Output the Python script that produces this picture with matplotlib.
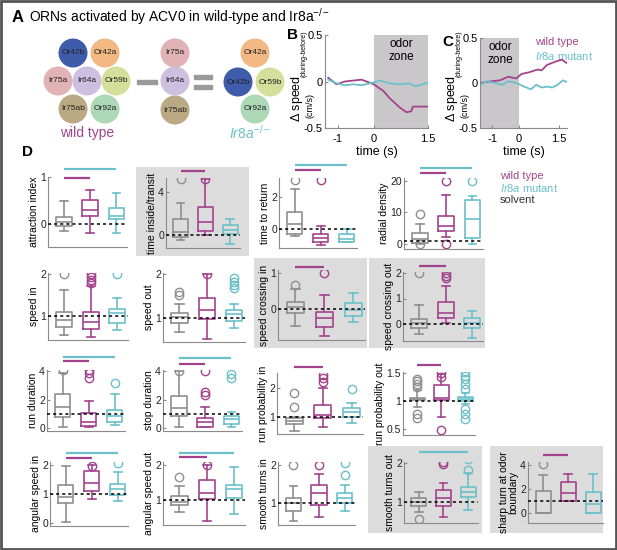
import matplotlib
matplotlib.use("Agg")
import matplotlib.pyplot as plt
from matplotlib.patches import Circle, Rectangle

plt.rcParams['font.family'] = ['Liberation Sans', 'DejaVu Sans']
plt.rcParams['mathtext.fontset'] = 'custom'
plt.rcParams['mathtext.rm'] = 'Liberation Sans'
plt.rcParams['mathtext.it'] = 'Liberation Sans:italic'

W, H = 617, 550
GRAY, MAG, CYAN = '#8f8f8f', '#a3438d', '#6cc0ca'
BG = '#dcdcdc'
SPINE = '#8a8a8a'

# ---- panel A: receptor sets
wt_orns = ['Or42b', 'Or42a', 'Ir75a', 'Ir64a', 'Or59b', 'Ir75ab', 'Or92a']
ir8a_orns = ['Ir75a', 'Ir64a', 'Ir75ab']
mutant_orns = ['Or42a', 'Or42b', 'Or59b', 'Or92a']
orn_colors = {'Or42b': '#3f5caa', 'Or42a': '#f3b985', 'Ir75a': '#e1b2b6',
              'Ir64a': '#cdbfe0', 'Or59b': '#d3df9b', 'Ir75ab': '#bba983',
              'Or92a': '#acd8b5'}

# ---- panels B and C: change in speed vs time
b_time = [-1.26, -1.03, -0.8, -0.57, -0.34, -0.2, 0.0, 0.26, 0.44, 0.58, 0.72,
          0.9, 1.04, 1.08, 1.22, 1.5]
b_wt = [0.04, -0.03, 0.0, 0.01, 0.02, 0.0, -0.03, -0.1, -0.18, -0.23, -0.28,
        -0.33, -0.32, -0.27, -0.27, -0.27]
b_time_mut = [-1.26, -1.03, -0.8, -0.57, -0.34, 0.0, 0.17, 0.44, 0.72, 0.99,
              1.13, 1.27, 1.5]
b_mut = [0.02, -0.02, -0.04, -0.03, -0.04, -0.01, 0.01, -0.02, -0.03, -0.02,
         -0.05, -0.04, -0.01]

c_time = [-1.45, -1.0, -0.7, -0.4, -0.1, 0.1, 0.4, 0.7, 0.85, 1.05, 1.3,
          1.6, 1.8]
c_wt = [0.0, 0.02, 0.03, 0.07, 0.05, 0.1, 0.12, 0.15, 0.14, 0.2, 0.23,
        0.26, 0.22]
c_time_mut = [-1.45, -1.2, -0.9, -0.6, -0.4, -0.1, 0.2, 0.45, 0.65, 0.85,
              1.05, 1.25, 1.45, 1.65, 1.8]
c_mut = [-0.02, 0.02, 0.0, -0.02, 0.02, 0.0, -0.04, -0.07, -0.02, -0.05,
         -0.04, -0.05, -0.02, 0.03, 0.01]

# ---- panel D: box statistics (whislo, q1, med, q3, whishi, fliers)
# order: solvent, wild type, Ir8a mutant
attraction_index = [(-0.15, -0.05, 0.05, 0.15, 0.5, []),
                    (-0.2, 0.18, 0.3, 0.52, 0.72, []),
                    (-0.2, 0.1, 0.18, 0.33, 0.67, [])]
time_inside = [(-0.5, -0.2, 0.3, 1.5, 3.0, [5.2]),
               (0.0, 0.4, 1.2, 2.6, 5.2, [5.2]),
               (-0.85, 0.1, 0.45, 0.9, 1.5, [])]
time_to_return = [(-0.45, -0.3, 0.3, 1.06, 2.5, [3.06]),
                  (-1.0, -0.8, -0.55, -0.3, 0.2, [3.06]),
                  (-0.8, -0.8, -0.6, -0.3, 0.0, [])]
radial_density = [(0.0, 0.3, 1.5, 3.5, 6.4, [9.5, 0.0]),
                  (2.2, 4.1, 5.7, 8.9, 15.5, [20.0, 0.0]),
                  (0.0, 1.9, 7.9, 14.0, 15.3, [20.0])]
speed_in = [(0.55, 0.74, 0.9, 1.1, 1.62, [2.0]),
            (0.5, 0.7, 0.86, 1.1, 1.71, [1.78, 1.86, 1.93, 2.0]),
            (0.67, 0.83, 1.07, 1.17, 1.43, [2.0])]
speed_out = [(0.68, 0.89, 1.02, 1.11, 1.32, [1.52, 1.6]),
             (0.52, 0.98, 1.18, 1.45, 2.0, [2.0]),
             (0.77, 0.93, 1.09, 1.18, 1.32, [1.68, 1.75, 1.82, 1.9])]
speed_crossing_in = [(-0.47, -0.12, 0.05, 0.19, 0.55, [0.67]),
                     (-0.75, -0.5, -0.25, -0.08, 0.39, [1.0]),
                     (-0.36, -0.19, -0.03, 0.17, 0.44, [])]
speed_crossing_out = [(-0.39, -0.16, 0.05, 0.2, 0.75, [2.0]),
                      (0.03, 0.23, 0.43, 0.86, 1.5, [1.82, 1.9, 2.0]),
                      (-0.55, -0.16, 0.04, 0.24, 0.52, [])]
run_duration = [(0.07, 0.77, 1.47, 2.38, 3.86, [4.07]),
                (0.07, 0.14, 0.4, 1.05, 1.9, [3.5, 3.86, 4.07]),
                (0.2, 0.42, 0.84, 1.26, 2.38, [3.16])]
stop_duration = [(0.1, 0.84, 1.4, 2.25, 4.0, [4.0]),
                 (0.05, 0.1, 0.42, 0.7, 1.47, [2.3, 2.5, 4.0]),
                 (0.05, 0.28, 0.63, 0.84, 1.12, [3.5, 3.8])]
run_prob_in = [(0.52, 0.76, 0.86, 0.97, 1.0, [1.34, 1.83]),
               (0.66, 0.97, 1.07, 1.41, 2.0, [2.2, 2.34, 2.45]),
               (0.79, 1.0, 1.17, 1.31, 1.48, [1.97])]
run_prob_out = [(0.89, 1.01, 1.04, 1.06, 1.2, [1.25, 1.3, 1.36, 1.4, 0.77, 0.7]),
                (0.71, 1.02, 1.06, 1.29, 1.48, [1.43, 1.5, 0.48]),
                (0.95, 1.0, 1.04, 1.07, 1.14,
                 [1.21, 1.3, 1.39, 1.45, 1.52, 0.86, 0.77, 0.68])]
angular_speed_in = [(0.03, 0.69, 0.88, 1.3, 1.97, []),
                    (0.84, 1.12, 1.38, 1.8, 2.0, [1.97]),
                    (0.77, 0.97, 1.17, 1.34, 1.77, [2.06])]
angular_speed_out = [(0.65, 0.86, 0.95, 1.12, 1.4, [1.66]),
                     (0.4, 1.02, 1.2, 1.57, 2.0, [2.0]),
                     (0.6, 1.06, 1.31, 1.43, 1.95, [])]
smooth_turns_in = [(0.53, 0.79, 1.0, 1.14, 1.45, [2.0]),
                   (0.63, 0.95, 1.26, 1.47, 1.76, [2.0]),
                   (0.79, 1.0, 1.13, 1.26, 1.47, [1.74, 2.05])]
smooth_turns_out = [(0.75, 0.9, 1.0, 1.1, 1.26, [0.56]),
                    (0.62, 0.9, 1.1, 1.31, 1.49, [1.98, 2.02]),
                    (0.79, 1.13, 1.26, 1.39, 1.74, [1.82, 2.1])]
sharp_turn = [(0.0, 0.0, 0.0, 1.83, 3.17, [4.08]),
              (1.0, 1.0, 1.67, 2.58, 3.25, []),
              (0.0, 0.0, 0.75, 1.75, 3.25, [])]

# significance bars: (last group joined to solvent, height)
panels = [
    ('attraction index', attraction_index, [(2, 0.98), (3, 1.17)], 0, [0, 1]),
    ('time inside/transit', time_inside, [(2, 6.0)], 0, [0, 4]),
    ('time to return', time_to_return, [(2, 3.7), (3, 4.0)], 0, [0, 2]),
    ('radial density', radial_density, [(2, 22.5), (3, 24.2)], 1, [0, 10, 20]),
    ('speed in', speed_in, [], 1, [1, 2]),
    ('speed out', speed_out, [], 1, [1, 2]),
    ('speed crossing in', speed_crossing_in, [(2, 1.17)], 0, [0, 1]),
    ('speed crossing out', speed_crossing_out, [(2, 2.27)], 0, [0, 1, 2]),
    ('run duration', run_duration, [(2, 4.7), (3, 5.0)], 1, [0, 2, 4]),
    ('stop duration', stop_duration, [(2, 4.5), (3, 4.9)], 1, [0, 2, 4]),
    ('run probability in', run_prob_in, [(2, 2.72)], 1, [1, 2]),
    ('run probability out', run_prob_out, [(2, 1.64)], 1, [0.5, 1, 1.5]),
    ('angular speed in', angular_speed_in, [(2, 2.24), (3, 2.4)], 1, [0, 1, 2]),
    ('angular speed out', angular_speed_out, [(2, 2.23), (3, 2.34)], 1, [1, 2]),
    ('smooth turns in', smooth_turns_in, [], 1, [1, 2]),
    ('smooth turns out', smooth_turns_out, [(3, 2.28)], 1, [1, 2]),
    ('sharp turn at odor\nboundary', sharp_turn, [(2, 4.8)], 1, [0, 2, 4]),
]

# layout in pixels: left, right, bottom, top, (v1, px1, v2, px2), background
layout = [
    (48, 127, 247, 177, (0, 224, 1, 177), None),
    (166, 240, 248, 178, (0, 235, 4, 192), (136, 167, 249, 256)),
    (279, 357, 248, 178, (0, 229, 2, 197), None),
    (404, 483, 249, 178, (0, 244, 20, 181), None),
    (48, 128, 340, 273, (1, 316, 2, 274), None),
    (163, 245, 342, 273, (1, 318, 2, 274), None),
    (278, 365, 340, 270, (0, 309, 1, 273), (254, 258, 367, 348)),
    (403, 483, 341, 272, (0, 324, 2, 273), (369, 258, 485, 348)),
    (47, 125, 431, 370, (0, 428, 4, 371), None),
    (163, 242, 431, 370, (0, 428, 4, 371), None),
    (277, 363, 434, 373, (1, 417, 2, 388), None),
    (403, 475, 435, 372, (0.5, 429, 1.5, 373), None),
    (50, 128, 526, 462, (0, 523, 2, 465), None),
    (163, 245, 525, 462, (1, 500, 2, 465), None),
    (278, 355, 525, 462, (1, 503, 2, 465), None),
    (404, 478, 523, 462, (1, 502, 2, 463), (368, 446, 482, 533)),
    (528, 603, 523, 462, (0, 513, 4, 465), (490, 446, 603, 533)),
]


def px_rect(l, r, b, t):
    return [l / W, 1 - b / H, (r - l) / W, (b - t) / H]


fig = plt.figure(figsize=(W / 100, H / 100), dpi=100)

# base layer in pixel coordinates for drawings and labels
base = fig.add_axes([0, 0, 1, 1])
base.set_xlim(0, W)
base.set_ylim(H, 0)
base.axis('off')
base.add_patch(Rectangle((1, 1), W - 2, H - 2, fill=False, ec='#555555', lw=2))

# ---- panel A
base.text(12, 17, 'A', fontsize=12, fontweight='bold', va='center')
base.text(29, 17, 'ORNs activated by ACV0 in wild-type and Ir8a$^{-/-}$',
          fontsize=10, va='center')
centers_wt = [(73, 53), (105, 53), (58, 81), (87, 81), (116, 81), (73, 109), (105, 109)]
centers_mid = [(175, 53), (175, 81), (175, 110)]
centers_mut = [(255, 53), (238, 82), (270, 82), (255, 109)]
for names, centers in [(wt_orns, centers_wt), (ir8a_orns, centers_mid),
                       (mutant_orns, centers_mut)]:
    for name, (x, y) in zip(names, centers):
        base.add_patch(Circle((x, y), 14.5, color=orn_colors[name], ec='none'))
        base.text(x, y, name, fontsize=6, ha='center', va='center', color='#222222')
base.add_patch(Rectangle((137, 80), 20, 4, color='#9a9a9a'))
base.add_patch(Rectangle((194, 75), 18, 4, color='#9a9a9a'))
base.add_patch(Rectangle((194, 85), 18, 4, color='#9a9a9a'))
base.text(87, 133, 'wild type', fontsize=10, color=MAG, ha='center', va='center')
base.text(250, 133, r'$\it{Ir8a}^{-/-}$', fontsize=10, color=CYAN, ha='center', va='center')


def style_line_axes(ax):
    for s in ['top', 'right']:
        ax.spines[s].set_visible(False)
    for s in ['left', 'bottom']:
        ax.spines[s].set_color(SPINE)
    ax.tick_params(length=2, direction='in', color=SPINE, labelsize=8, pad=1.5)
    ax.tick_params(axis='x', pad=4)
    ax.patch.set_alpha(0)


def speed_ylabel(x):
    base.text(x, 122, r'$\Delta$ speed', fontsize=9, rotation=90, ha='center', va='bottom')
    base.text(x + 7, 77, '(during-before)', fontsize=5, rotation=90, ha='center', va='bottom')
    base.text(x + 13, 118, '(cm/s)', fontsize=6.5, rotation=90, ha='center', va='bottom')


# ---- panel B
base.text(287, 35, 'B', fontsize=11, fontweight='bold', va='center')
axb = fig.add_axes(px_rect(325, 428, 128, 35))
axb.axvspan(0, 1.5, color='#c9c7c9', lw=0)
axb.plot(b_time, b_wt, color=MAG, lw=1.3)
axb.plot(b_time_mut, b_mut, color=CYAN, lw=1.3)
axb.set_xlim(-1.35, 1.5)
axb.set_ylim(-0.5, 0.5)
axb.set_xticks([-1, 0, 1.5], ['-1', '0', '1.5'])
axb.set_yticks([-0.5, 0, 0.5], ['-0.5', '0', '0.5'])
axb.text(0.75, 0.33, 'odor\nzone', fontsize=8.5, ha='center', va='center', linespacing=1.1)
axb.set_xlabel('time (s)', fontsize=9, labelpad=2)
style_line_axes(axb)
speed_ylabel(297)

# ---- panel C
base.text(442, 42, 'C', fontsize=11, fontweight='bold', va='center')
axc = fig.add_axes(px_rect(480, 567, 128, 38))
axc.axvspan(-1.45, 0, color='#c9c7c9', lw=0)
axc.plot(c_time, c_wt, color=MAG, lw=1.3)
axc.plot(c_time_mut, c_mut, color=CYAN, lw=1.3)
axc.set_xlim(-1.45, 1.8)
axc.set_ylim(-0.5, 0.5)
axc.set_xticks([-1, 0, 1.5], ['-1', '0', '1.5'])
axc.set_yticks([-0.5, 0, 0.5], ['-0.5', '0', '0.5'])
axc.text(-0.7, 0.33, 'odor\nzone', fontsize=8.5, ha='center', va='center', linespacing=1.1)
axc.set_xlabel('time (s)', fontsize=9, labelpad=2)
style_line_axes(axc)
speed_ylabel(452)
base.text(535, 42, 'wild type', fontsize=8, color=MAG, va='center')
base.text(535, 56, r'$\it{Ir8a}$ mutant', fontsize=8, color=CYAN, va='center')

# ---- panel D
base.text(22, 152, 'D', fontsize=11, fontweight='bold', va='center')
base.text(500, 176, 'wild type', fontsize=8, color=MAG, va='center')
base.text(500, 188, r'$\it{Ir8a}$ mutant', fontsize=8, color=CYAN, va='center')
base.text(500, 200, 'solvent', fontsize=8, color='#333333', va='center')

group_colors = [GRAY, MAG, CYAN]
for (label, stats, sig, ref, yticks), (l, r, b, t, tm, bg) in zip(panels, layout):
    if bg is not None:
        base.add_patch(Rectangle((bg[0], bg[1]), bg[2] - bg[0], bg[3] - bg[1],
                                 color=BG, lw=0, zorder=0))
    ax = fig.add_axes(px_rect(l, r, b, t))
    ax.patch.set_alpha(0)
    v1, p1, v2, p2 = tm
    ppu = (p1 - p2) / (v2 - v1)
    for i, (lo, q1, med, q3, hi, fl) in enumerate(stats):
        c = group_colors[i]
        st = dict(whislo=lo, q1=q1, med=med, q3=q3, whishi=hi, fliers=fl)
        lp = dict(color=c, lw=1.2)
        ax.bxp([st], positions=[i + 1], widths=0.6, capwidths=0.3,
               boxprops=lp, whiskerprops=lp, capprops=lp, medianprops=lp,
               flierprops=dict(marker='o', mfc='none', mec=c, ms=6, mew=1))
    ax.axhline(ref, color='black', lw=1.1, ls=(0, (2, 2)), zorder=5)
    for end, y in sig:
        ax.plot([1, end], [y, y], color=group_colors[end - 1], lw=1.6,
                clip_on=False, solid_capstyle='butt')
    ax.set_xlim(0.4, 3.4)
    ax.set_ylim(v1 - (b - p1) / ppu, v1 + (p1 - t) / ppu)
    ax.set_xticks([])
    ax.set_yticks(yticks, [f'{v:g}' for v in yticks])
    for s in ['top', 'right']:
        ax.spines[s].set_visible(False)
    for s in ['left', 'bottom']:
        ax.spines[s].set_color(SPINE)
    ax.tick_params(axis='y', length=2, direction='in', color=SPINE,
                   labelsize=7.5, pad=1.5, labelcolor='#222222')
    ax.set_ylabel(label, fontsize=7.5, labelpad=1, linespacing=1.0)

fig.savefig('out.png', dpi=100)
